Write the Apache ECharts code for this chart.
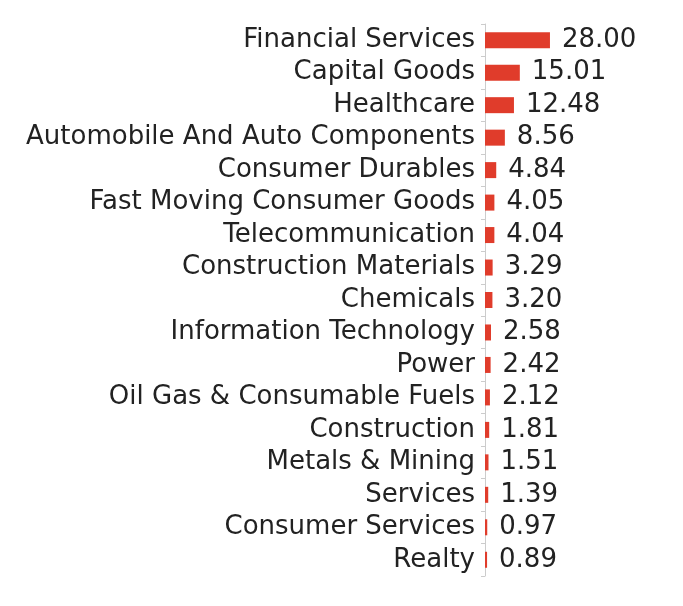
<!DOCTYPE html>
<html>
<head>
<meta charset="utf-8">
<script src="https://cdn.jsdelivr.net/npm/echarts@6/dist/echarts.min.js"></script>
<style>html,body{margin:0;padding:0;background:#fff;}#c{width:683px;height:606px;}</style>
</head>
<body>
<div id="c"></div>
<script>
var categories = ["Financial Services","Capital Goods","Healthcare","Automobile And Auto Components","Consumer Durables","Fast Moving Consumer Goods","Telecommunication","Construction Materials","Chemicals","Information Technology","Power","Oil Gas & Consumable Fuels","Construction","Metals & Mining","Services","Consumer Services","Realty"];
var values = [28.00,15.01,12.48,8.56,4.84,4.05,4.04,3.29,3.20,2.58,2.42,2.12,1.81,1.51,1.39,0.97,0.89];

var chart = echarts.init(document.getElementById('c'));
chart.setOption({
  animation: false,
  grid: {left: 485, top: 24, width: 185.6, height: 552, containLabel: false},
  xAxis: {type: 'value', min: 0, max: 80, show: false},
  yAxis: {
    type: 'category',
    data: categories,
    inverse: true,
    axisLine: {show: true, lineStyle: {color: '#cccccc', width: 1}},
    axisTick: {show: true, length: 4, interval: 0, lineStyle: {color: '#cccccc'}},
    axisLabel: {interval: 0, hideOverlap: false, margin: 10, fontSize: 26, lineHeight: 28, padding: [5, 0, 0, 0], color: '#222222', fontFamily: 'DejaVu Sans'}
  },
  series: [{
    type: 'bar',
    data: values,
    barWidth: 16,
    itemStyle: {color: '#e03c2b'},
    label: {show: true, position: 'right', distance: 12, fontSize: 26, lineHeight: 28, padding: [5, 0, 0, 0], color: '#222222', fontFamily: 'DejaVu Sans',
      formatter: function(p){ return p.value.toFixed(2); }}
  }]
});
</script>
</body>
</html>
